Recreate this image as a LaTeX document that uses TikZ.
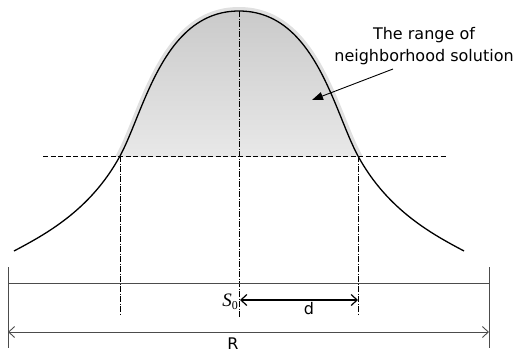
\documentclass[tikz,border=0pt]{standalone}
\usepackage{fontspec}
\newfontfamily\djv{DejaVu Sans}
\newfontfamily\lsr{Liberation Serif}
\usetikzlibrary{arrows.meta}
\begin{document}
\begin{tikzpicture}[x=1pt,y=-1pt,
  bellcurve/.style={line width=1.3pt,black},
  hdash/.style={line width=0.9pt,black,dash pattern=on 5pt off 2.5pt},
  dashdot/.style={line width=0.8pt,black,dash pattern=on 6pt off 1.5pt on 1pt off 1.5pt},
  grayline/.style={line width=0.9pt,black!70},
  dimarrow/.style={{Straight Barb[length=6pt,width=11pt]}-{Straight Barb[length=6pt,width=11pt]}},
  lbl/.style={font=\djv\fontsize{16}{22}\selectfont,inner sep=0pt}
]
\useasboundingbox (0,0) rectangle (519,354);
\def\bellpath{(14,251) .. controls (44,235) and (90,211) .. (120,156) .. controls (144,112) and (163,11) .. (239,11) .. controls (315,11) and (334,112) .. (358,156) .. controls (388,211) and (434,235) .. (464,251)}
% halo
\begin{scope}
  \clip (0,0) rectangle (519,156);
  \draw[line width=8pt,black!12] \bellpath;
\end{scope}
% gradient fill
\begin{scope}
  \clip (0,0) rectangle (519,156);
  \clip \bellpath -- cycle;
  \fill[top color=black!21, bottom color=black!9] (0,8) rectangle (519,156);
\end{scope}
% coordinates
\coordinate (hl) at (43,156);
\coordinate (hr) at (446,156);
\coordinate (vlt) at (120,156);
\coordinate (vlb) at (120,315);
\coordinate (vct) at (239,11);
\coordinate (vcb) at (239,317);
\coordinate (vrt) at (358,156);
\coordinate (vrb) at (358,314);
\coordinate (bl1) at (8,267);
\coordinate (bl2) at (8,348);
\coordinate (br1) at (489,267);
\coordinate (br2) at (489,348);
\coordinate (hgl) at (8,283);
\coordinate (hgr) at (489,283);
\coordinate (rl) at (8,332);
\coordinate (rr) at (489,332);
\coordinate (dl) at (240,300);
\coordinate (dr) at (358,300);
\coordinate (arrs) at (393,69);
\coordinate (arre) at (312,100);
% lines
\draw[hdash] (hl) -- (hr);
\draw[dashdot] (vlt) -- (vlb);
\draw[dashdot] (vct) -- (vcb);
\draw[dashdot] (vrt) -- (vrb);
% curve
\draw[bellcurve] \bellpath;
% dimension lines
\draw[grayline] (bl1) -- (bl2);
\draw[grayline] (br1) -- (br2);
\draw[grayline] (hgl) -- (hgr);
\draw[grayline,dimarrow] (rl) -- (rr);
\draw[line width=1.2pt,black,dimarrow] (dl) -- (dr);
% labels
\node[lbl,align=center] (txt) at (424,46) {The range of\\neighborhood solution};
\draw[line width=0.9pt,-{Triangle[length=11pt,width=8pt]}] (arrs) -- (arre);
\node[lbl] (dlab) at (309,309) {d};
\node[lbl] (rlab) at (233,344) {R};
\node[anchor=base east,inner sep=0pt] (s0) at (238,306) {\lsr\fontsize{19}{19}\selectfont\itshape S\raisebox{-3pt}{\upshape\fontsize{12}{12}\selectfont 0}};
\end{tikzpicture}
\end{document}
